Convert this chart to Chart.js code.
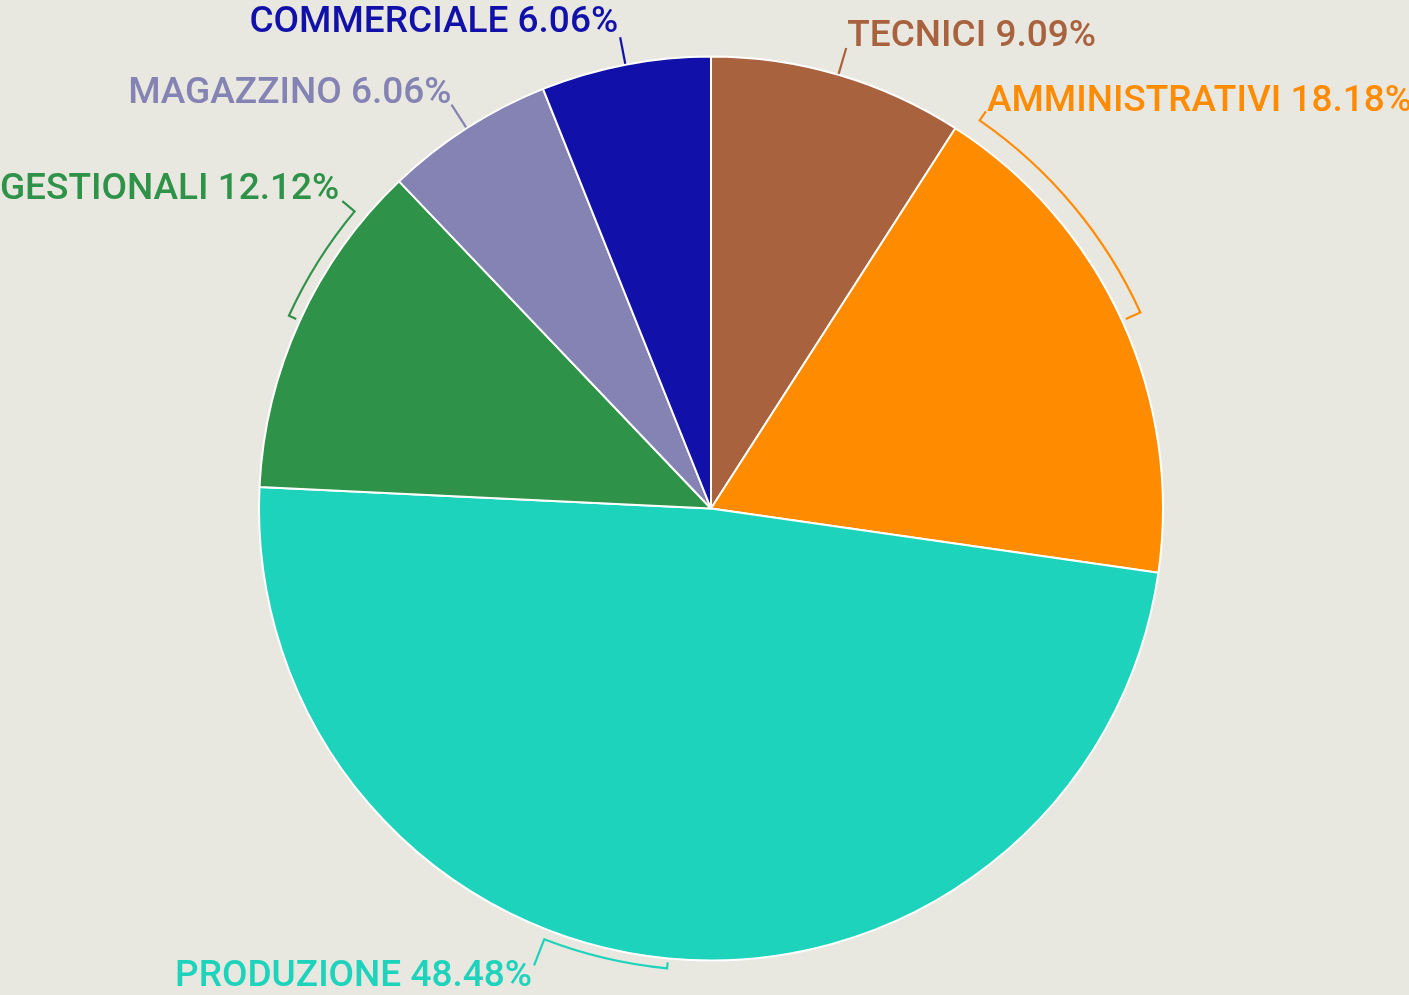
<!DOCTYPE html>
<html>
<head>
<meta charset="utf-8">
<script src="https://cdn.jsdelivr.net/npm/chart.js@4"></script>
<style>
  html, body { margin: 0; padding: 0; background: #e8e7e0; }
  #wrap { width: 1409px; height: 995px; position: relative; }
</style>
</head>
<body>
<div id="wrap"><canvas id="pieChart"></canvas></div>
<script>
// dati del grafico
const categories = ['TECNICI', 'AMMINISTRATIVI', 'PRODUZIONE', 'GESTIONALI', 'MAGAZZINO', 'COMMERCIALE'];
const counts = [3, 6, 16, 4, 2, 2];
const sliceColors = ['#a8623e', '#ff8c00', '#1dd3bb', '#2e9248', '#8583b3', '#1111aa'];

// posizione etichette: parentesi (frazioni della fetta) oppure linea semplice
const labelLayout = [
  { bracket: null, dx: 1, dy: -2 },
  { bracket: [0.03, 0.5], at: 0, gap: 20, lead: 11, dx: 1, dy: 0 },
  { bracket: [0.5, 0.59], at: 1, gap: 10, lead: 28, dx: -2, dy: 21 },
  { bracket: [0.5, 0.85], at: 1, gap: 12, lead: 16, dx: -3, dy: -2 },
  { bracket: null, dx: 0, dy: -2 },
  { bracket: null, dx: -2, dy: -5 }
];

const total = counts.reduce((a, b) => a + b, 0);

const pieLabels = {
  id: 'pieLabels',
  afterDraw(chart) {
    const ctx = chart.ctx;
    const meta = chart.getDatasetMeta(0);
    ctx.save();
    ctx.font = '500 37px Roboto';
    ctx.lineWidth = 2.2;
    meta.data.forEach((arc, i) => {
      const cx = arc.x, cy = arc.y, R = arc.outerRadius;
      const s = arc.startAngle, e = arc.endAngle;
      const pt = (r, a) => ({ x: cx + r * Math.cos(a), y: cy + r * Math.sin(a) });
      const lay = labelLayout[i];
      const col = sliceColors[i];
      ctx.strokeStyle = col;
      ctx.fillStyle = col;
      let end, ang;
      if (!lay.bracket) {
        ang = s + 0.5 * (e - s);
        const p1 = pt(R + 1, ang);
        end = pt(R + 28, ang);
        ctx.beginPath();
        ctx.moveTo(p1.x, p1.y);
        ctx.lineTo(end.x, end.y);
        ctx.stroke();
      } else {
        const a0 = s + lay.bracket[0] * (e - s);
        const a1 = s + lay.bracket[1] * (e - s);
        const rb = R + lay.gap;
        const tickA = lay.at === 0 ? a1 : a0;
        ang = lay.at === 0 ? a0 : a1;
        const t0 = pt(R + 4, tickA);
        const t1 = pt(rb, tickA);
        ctx.beginPath();
        ctx.moveTo(t0.x, t0.y);
        ctx.lineTo(t1.x, t1.y);
        ctx.arc(cx, cy, rb, tickA, ang, lay.at === 0);
        const l1 = pt(rb + lay.lead, ang);
        ctx.lineTo(l1.x, l1.y);
        ctx.stroke();
        end = l1;
      }
      const txt = categories[i] + ' ' + (counts[i] / total * 100).toFixed(2) + '%';
      ctx.textAlign = end.x >= cx ? 'left' : 'right';
      ctx.textBaseline = 'alphabetic';
      ctx.fillText(txt, end.x + lay.dx, end.y + lay.dy);
    });
    ctx.restore();
  }
};

const ctx = document.getElementById('pieChart').getContext('2d');
new Chart(ctx, {
  type: 'pie',
  data: {
    labels: categories,
    datasets: [{
      data: counts,
      backgroundColor: sliceColors,
      borderColor: '#ffffff',
      borderWidth: 2
    }]
  },
  options: {
    responsive: true,
    maintainAspectRatio: false,
    animation: false,
    layout: {
      padding: { top: 55, bottom: 33, left: 258, right: 245 }
    },
    plugins: {
      legend: { display: false },
      tooltip: { enabled: false }
    }
  },
  plugins: [pieLabels]
});
</script>
</body>
</html>
